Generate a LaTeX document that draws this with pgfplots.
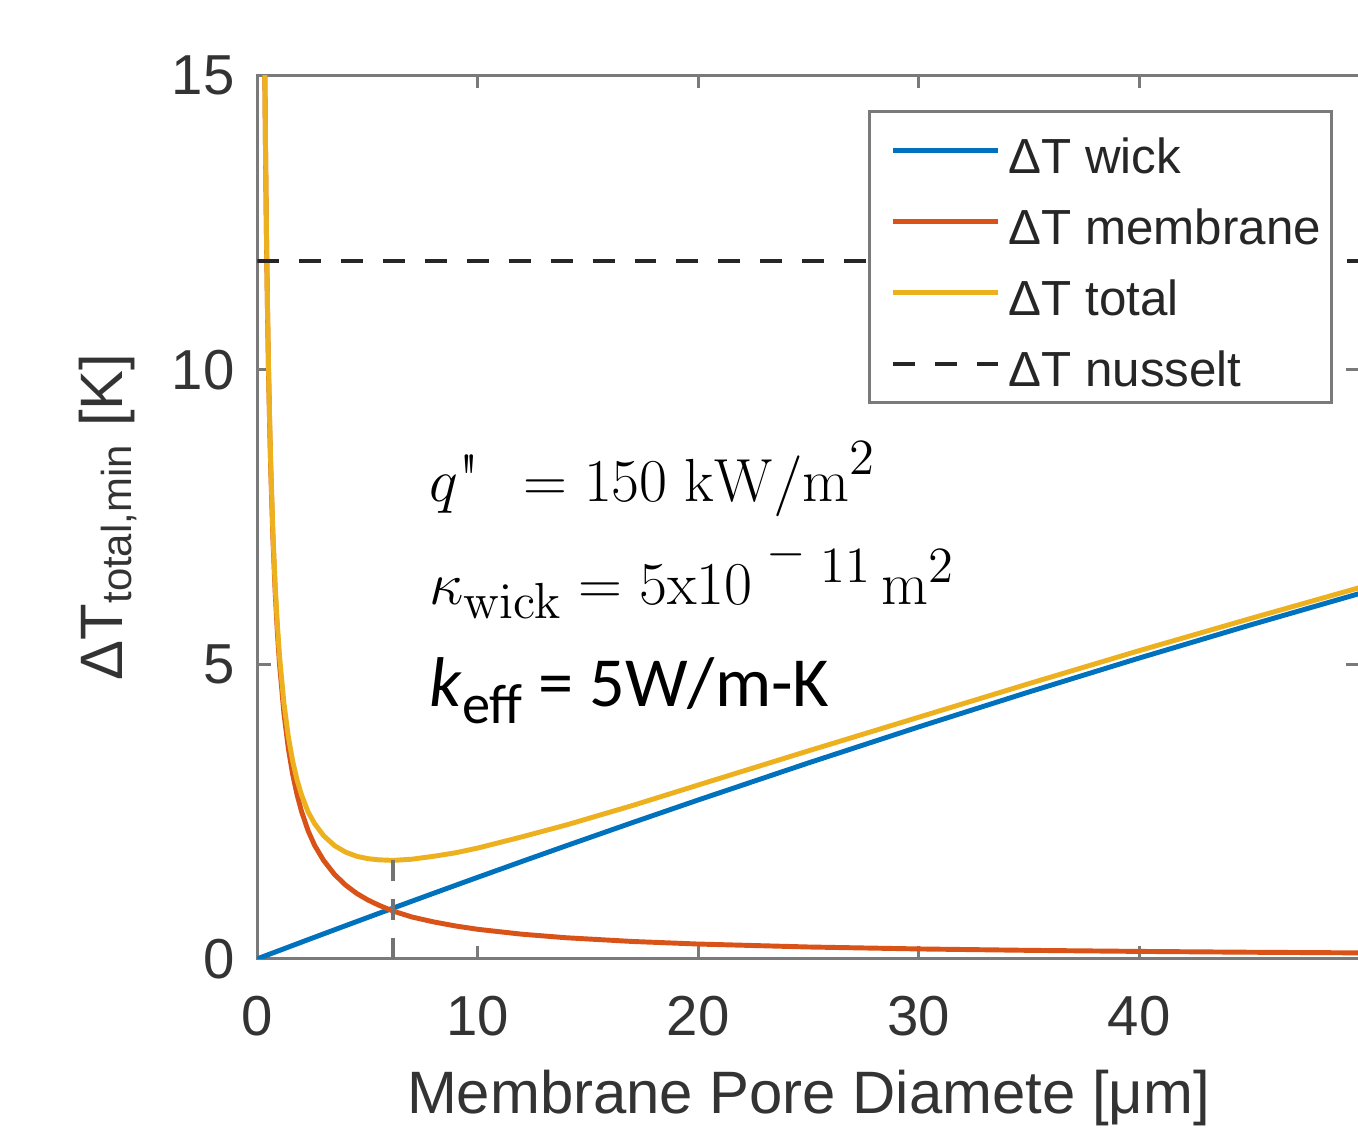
\documentclass[border=0pt]{standalone}
\usepackage[no-math]{fontspec}
\setmainfont{Liberation Sans}
\newfontfamily\carlito{Carlito}
\newfontfamily\lmr{Latin Modern Roman}
\usepackage{pgfplots}
\pgfplotsset{compat=1.18}

\definecolor{mblue}{HTML}{0072BD}
\definecolor{morange}{HTML}{D95319}
\definecolor{myellow}{HTML}{EDB120}
\definecolor{axgray}{HTML}{7A7A7A}
\definecolor{txtgray}{HTML}{333333}

% values (K vs pore diameter in um)
\pgfplotstableread{
x     wick    memb   total
0     0       nan    nan
0.3   0.0426  16.67  16.71
0.33  0.0469  15.15  15.20
0.36  0.0511  13.89  13.94
0.4   0.0568  12.50  12.56
0.45  0.0639  11.11  11.17
0.5   0.0710  10.00  10.07
0.55  0.0781  9.09   9.17
0.6   0.0852  8.33   8.42
0.7   0.0994  7.14   7.24
0.8   0.1134  6.25   6.36
0.9   0.1275  5.56   5.69
1.0   0.1416  5.00   5.14
1.2   0.1699  4.17   4.34
1.4   0.1981  3.57   3.77
1.6   0.2263  3.125  3.35
1.8   0.2544  2.78   3.03
2.0   0.2826  2.50   2.78
2.3   0.3247  2.17   2.49
2.6   0.3668  1.92   2.29
3.0   0.4228  1.67   2.09
3.5   0.4926  1.43   1.92
4.0   0.5622  1.25   1.81
4.5   0.6317  1.11   1.74
5.0   0.7010  1.00   1.70
5.5   0.7701  0.91   1.68
6.15  0.8597  0.81   1.67
7     0.9764  0.71   1.69
8     1.1130  0.625  1.74
9     1.2488  0.556  1.80
10    1.384   0.50   1.88
12    1.6522  0.417  2.07
14    1.9174  0.357  2.27
17    2.3100  0.294  2.60
20    2.696   0.25   2.95
25    3.325   0.20   3.53
30    3.936   0.167  4.10
35    4.529   0.143  4.67
40    5.104   0.125  5.23
45    5.661   0.111  5.77
50    6.20    0.10   6.30
}\curves

\begin{document}
\begin{tikzpicture}
\begin{axis}[
    name=ax,
    scale only axis,
    width=11cm, height=8.82cm,
    xmin=0, xmax=50, ymin=0, ymax=15,
    xtick={0,10,20,30,40}, ytick={0,5,10,15},
    tick align=inside, major tick length=0.13cm,
    axis line style={axgray, line width=0.85pt},
    every tick/.style={axgray, line width=0.85pt},
    /pgf/number format/assume math mode=true,
    tick label style={font=\fontsize{16}{18}\selectfont, text=txtgray},
    xticklabel style={yshift=-7pt},
    yticklabel style={xshift=-3pt},
    label style={font=\fontsize{17}{20}\selectfont, text=txtgray},
    xlabel={Membrane Pore Diamete [μm]},
    xlabel shift=3pt,
    ylabel={ΔT\textsubscript{total,min} [K]},
    ylabel shift=3pt,
    legend cell align=left,
    legend image code/.code={\draw[#1] (0.1cm,0cm) -- (1.15cm,0cm); \path (0cm,0cm);},
    legend style={at={(rel axis cs:0.976,0.960)}, anchor=north east,
        draw=axgray, line width=0.85pt, fill=white,
        inner xsep=3pt, inner ysep=4.5pt, row sep=7.2pt, column sep=2.3pt,
        font=\fontsize{14}{16}\selectfont, text=black!85,
        nodes={inner sep=0pt, text height=13pt, text depth=0pt}},
]
\addplot[mblue, line width=1.4pt] table[x=x, y=wick] {\curves};
\addlegendentry{ΔT wick}
\addplot[morange, line width=1.4pt] table[x=x, y=memb] {\curves};
\addlegendentry{ΔT membrane}
\addplot[myellow, line width=1.4pt] table[x=x, y=total] {\curves};
\addlegendentry{ΔT total}
\addplot[black!85, line width=1.1pt, dash pattern=on 6.2pt off 5.7pt]
    coordinates {(0,11.85) (50,11.85)};
\addlegendentry{ΔT nusselt}
\addplot[black!55, line width=1.1pt, dash pattern=on 6pt off 5pt, forget plot]
    coordinates {(6.15,0) (6.15,1.67)};

\node[anchor=base west, inner sep=0pt, font=\fontsize{19}{22}\selectfont] at (axis cs:7.77,7.77)
    {$q\mbox{\lmr\textquotedbl}\;\, = 150\;\mathrm{kW/m}^2$};
\node[anchor=base west, inner sep=0pt, font=\fontsize{19}{22}\selectfont] at (axis cs:7.77,6.02)
    {$\kappa_{\mathrm{wick}} = 5\mathrm{x}10^{\;\raisebox{0.4ex}{$\scriptstyle -$}\;11}\,\mathrm{m}^2$};
\node[anchor=base west, inner sep=0pt, font=\carlito\fontsize{20}{24}\selectfont] at (axis cs:7.77,4.29)
    {\textit{k}\raisebox{-0.25em}{\fontsize{16}{18}\selectfont eff} = 5W/m-K};
\end{axis}
\pgfresetboundingbox
\path[use as bounding box] ([xshift=-2.57cm,yshift=-1.81cm]ax.south west)
    rectangle ([xshift=-0.015cm,yshift=0.75cm]ax.north east);
\end{tikzpicture}
\end{document}
